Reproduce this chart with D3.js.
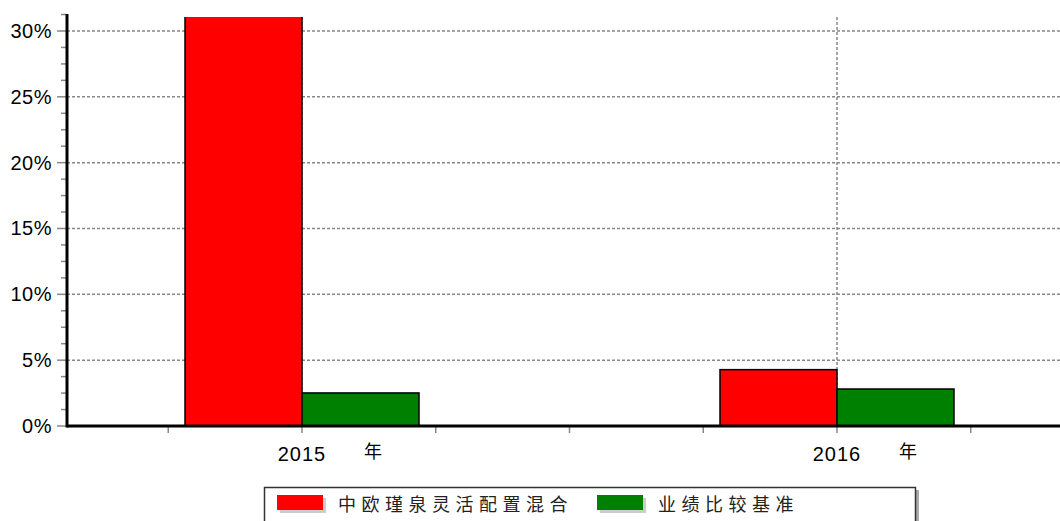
<!DOCTYPE html>
<html>
<head>
<meta charset="utf-8">
<script src="https://d3js.org/d3.v7.min.js"></script>
<style>
  body { margin: 0; background: #fff; }
  text { font-family: "Liberation Sans", Arial, sans-serif; }
  .cjk { font-family: "Noto Sans CJK SC", sans-serif; }
</style>
</head>
<body>
<div id="vis"></div>
<script>
// data
var years = [2015, 2016];
var fundValues = [40, 4.28];      // 2015 bar runs off the top of the chart
var benchValues = [2.51, 2.81];
var yTicks = [0, 5, 10, 15, 20, 25, 30];
var seriesNames = ["中欧瑾泉灵活配置混合", "业绩比较基准"];
var seriesColors = ["#ff0000", "#008000"];

var width = 1060, height = 521;

var svg = d3.select("#vis").append("svg")
  .attr("width", width)
  .attr("height", height);

// scales
var x = d3.scaleLinear().domain([2015, 2016]).range([302, 837]);
var y = d3.scaleLinear().domain([0, 31.29]).range([426, 14]);
var barW = 117 / (x(2016) - x(2015)); // in years

var plotLeft = 67, plotRight = 1060, plotTop = 14, plotBottom = 426;

// horizontal grid
svg.append("g").selectAll("line")
  .data(yTicks.filter(function(d){ return d > 0; }))
  .enter().append("line")
  .attr("x1", plotLeft).attr("x2", plotRight)
  .attr("y1", function(d){ return y(d); })
  .attr("y2", function(d){ return y(d); })
  .attr("stroke", "#888").attr("stroke-width", 1.5)
  .attr("stroke-dasharray", "3,2");

// vertical grid at each year
svg.append("g").selectAll("line")
  .data(years)
  .enter().append("line")
  .attr("x1", function(d){ return x(d); })
  .attr("x2", function(d){ return x(d); })
  .attr("y1", 17).attr("y2", plotBottom)
  .attr("stroke", "#888").attr("stroke-width", 1.5)
  .attr("stroke-dasharray", "3,2");

// bars
svg.append("clipPath").attr("id", "clip")
  .append("rect").attr("x", plotLeft).attr("y", 17)
  .attr("width", plotRight - plotLeft).attr("height", plotBottom - 17);

var bars = svg.append("g").attr("clip-path", "url(#clip)");
var all = [];
years.forEach(function(yr, i) {
  all.push({x0: yr - barW, x1: yr, v: fundValues[i], c: seriesColors[0]});
  all.push({x0: yr, x1: yr + barW, v: benchValues[i], c: seriesColors[1]});
});
bars.selectAll("rect")
  .data(all)
  .enter().append("rect")
  .attr("x", function(d){ return x(d.x0); })
  .attr("width", function(d){ return x(d.x1) - x(d.x0); })
  .attr("y", function(d){ return y(d.v); })
  .attr("height", function(d){ return y(0) - y(d.v); })
  .attr("fill", function(d){ return d.c; })
  .attr("stroke", "#000")
  .attr("stroke-width", 1.5);

// y ticks
var minor = d3.range(0, 31.3, 1.25);
svg.append("g").selectAll("line")
  .data(minor)
  .enter().append("line")
  .attr("x1", function(d){ return d % 5 === 0 ? 57 : 61; })
  .attr("x2", plotLeft)
  .attr("y1", function(d){ return y(d); })
  .attr("y2", function(d){ return y(d); })
  .attr("stroke", "#888").attr("stroke-width", 1.5);

svg.append("g").selectAll("text")
  .data(yTicks)
  .enter().append("text")
  .attr("x", 52)
  .attr("y", function(d){ return y(d) + 7; })
  .attr("text-anchor", "end")
  .attr("font-size", 20)
  .attr("letter-spacing", "0.5px")
  .attr("fill", "#000")
  .text(function(d){ return d + "%"; });

// x ticks
var xMinor = d3.range(2014.75, 2016.3, 0.25);
svg.append("g").selectAll("line")
  .data(xMinor)
  .enter().append("line")
  .attr("x1", function(d){ return x(d); })
  .attr("x2", function(d){ return x(d); })
  .attr("y1", 427).attr("y2", 433)
  .attr("stroke", "#888").attr("stroke-width", 1.5);

var xl = svg.append("g").selectAll("g")
  .data(years)
  .enter().append("g");
xl.append("text")
  .attr("x", function(d){ return x(d); })
  .attr("y", 461)
  .attr("text-anchor", "middle")
  .attr("font-size", 20)
  .attr("letter-spacing", "1px")
  .text(function(d){ return d; });
xl.append("text")
  .attr("class", "cjk")
  .attr("x", function(d){ return x(d) + 71; })
  .attr("y", 458)
  .attr("text-anchor", "middle")
  .attr("font-size", 18)
  .text("年");

// axes lines
svg.append("line")
  .attr("x1", plotLeft).attr("x2", plotLeft)
  .attr("y1", plotTop).attr("y2", plotBottom + 1.5)
  .attr("stroke", "#000").attr("stroke-width", 3);
svg.append("line")
  .attr("x1", plotLeft).attr("x2", plotRight)
  .attr("y1", plotBottom).attr("y2", plotBottom)
  .attr("stroke", "#000").attr("stroke-width", 3);

// legend
var lg = svg.append("g");
lg.append("rect")
  .attr("x", 267).attr("y", 490).attr("width", 652).attr("height", 40)
  .attr("fill", "#aaa");
lg.append("rect")
  .attr("x", 264.5).attr("y", 487.5).attr("width", 651).attr("height", 40)
  .attr("fill", "#fff").attr("stroke", "#333").attr("stroke-width", 1.5);

var legX = [277, 597];
var item = lg.selectAll("g.item")
  .data(seriesNames)
  .enter().append("g").attr("class", "item");
item.append("rect")
  .attr("x", function(d, i){ return legX[i] + 3; })
  .attr("y", 498)
  .attr("width", 46).attr("height", 15)
  .attr("fill", "#ccc");
item.append("rect")
  .attr("x", function(d, i){ return legX[i]; })
  .attr("y", 495)
  .attr("width", 46).attr("height", 15)
  .attr("fill", function(d, i){ return seriesColors[i]; });
item.append("text")
  .attr("class", "cjk")
  .attr("x", function(d, i){ return legX[i] + 61; })
  .attr("y", 511)
  .attr("font-size", 18)
  .attr("letter-spacing", "5.5px")
  .attr("fill", "#222")
  .text(function(d){ return d; });
</script>
</body>
</html>
